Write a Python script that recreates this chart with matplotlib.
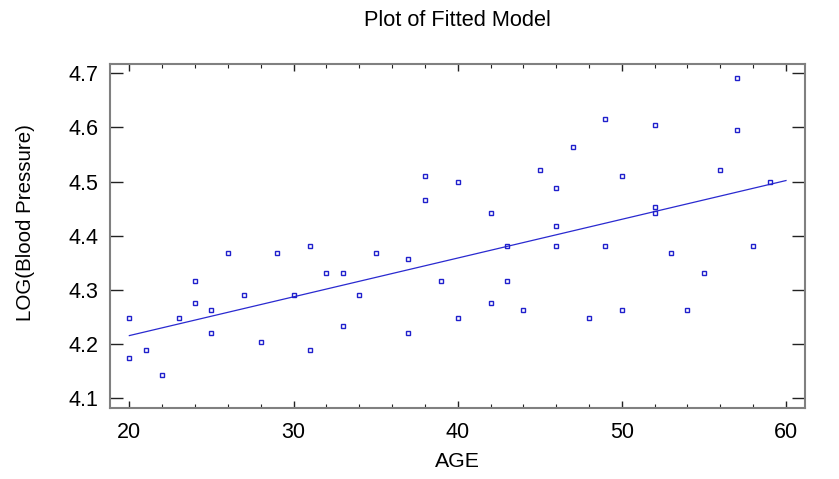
import matplotlib
matplotlib.use("Agg")
import matplotlib.pyplot as plt
from matplotlib.ticker import MultipleLocator

plt.rcParams['font.family'] = ['Liberation Sans', 'DejaVu Sans']

age = [20, 20, 21, 22, 23, 24, 24, 25, 25, 26, 27, 28, 29, 30, 31, 31, 32, 33, 33,
       34, 35, 37, 37, 38, 38, 39, 40, 40, 42, 42, 43, 43, 44, 45, 46, 46, 46, 47,
       48, 49, 49, 50, 50, 52, 52, 52, 53, 54, 55, 56, 57, 57, 58, 59]
log_bp = [4.249, 4.175, 4.190, 4.143, 4.249, 4.317, 4.277, 4.263, 4.220, 4.369,
          4.290, 4.205, 4.369, 4.290, 4.382, 4.190, 4.331, 4.331, 4.234, 4.290,
          4.369, 4.357, 4.220, 4.511, 4.466, 4.317, 4.500, 4.249, 4.443, 4.277,
          4.382, 4.317, 4.263, 4.522, 4.489, 4.419, 4.382, 4.564, 4.249, 4.615,
          4.382, 4.511, 4.263, 4.605, 4.454, 4.443, 4.369, 4.263, 4.331, 4.522,
          4.691, 4.595, 4.382, 4.500]

fit_age = [20, 60]
fit_log_bp = [4.216, 4.502]

fig = plt.figure(figsize=(8.39, 4.79), dpi=100)
ax = fig.add_axes([0.1311, 0.1489, 0.8284, 0.7175])

ax.plot(fit_age, fit_log_bp, color='#2a2ad0', lw=0.9, zorder=2)
ax.plot(age, log_bp, linestyle='none', marker='s', markersize=3.4,
        markerfacecolor='none', markeredgecolor='#2020cc', markeredgewidth=1.0, zorder=3)

ax.set_xlim(18.82, 61.16)
ax.set_ylim(4.083, 4.717)
ax.xaxis.set_major_locator(MultipleLocator(10))
ax.xaxis.set_minor_locator(MultipleLocator(2))
ax.yaxis.set_major_locator(MultipleLocator(0.1))
ax.tick_params(which='both', direction='in', top=True, right=True, color='#222222')
ax.tick_params(axis='x', which='major', length=5, width=1.0, labelsize=15.5, pad=10)
ax.tick_params(axis='x', which='minor', length=3, width=0.8)
ax.tick_params(axis='y', which='major', length=9.4, width=1.0, labelsize=15.5, pad=8.5)
ax.tick_params(axis='y', which='minor', left=False, right=False)
for s in ax.spines.values():
    s.set_color('#808080')
    s.set_linewidth(1.5)

ax.set_xlabel('AGE', fontsize=15.3, va='top')
ax.xaxis.set_label_coords(0.5, -0.128)
ax.set_ylabel('LOG(Blood Pressure)', fontsize=14.8, va='center')
ax.yaxis.set_label_coords(-0.122, 0.54)
fig.text(0.5455, 0.958, 'Plot of Fitted Model', ha='center', va='center', fontsize=15.7)

fig.savefig('out.png', dpi=100)
